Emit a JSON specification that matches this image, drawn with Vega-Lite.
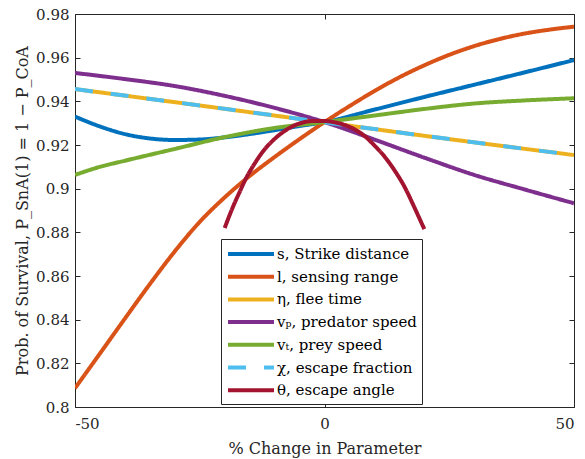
{
  "$schema": "https://vega.github.io/schema/vega-lite/v6.json",
  "width": 499,
  "height": 393,
  "autosize": "none",
  "padding": {"left": 75, "top": 14, "right": 11, "bottom": 52},
  "background": "white",
  "config": {
    "view": {"stroke": null},
    "font": "DejaVu Serif",
    "axis": {"grid": false, "domainColor": "#262626", "tickColor": "#262626", "labelColor": "#262626", "titleColor": "#262626", "labelFont": "DejaVu Serif", "titleFont": "DejaVu Serif", "labelFontSize": 15, "titleFontSize": 16, "titleFontWeight": "normal", "tickSize": -5, "domainWidth": 1, "tickWidth": 1}
  },
  "data": {"values": [
    {"param": "s, Strike distance", "p": -50, "v": 0.933},
    {"param": "s, Strike distance", "p": -45, "v": 0.9285},
    {"param": "s, Strike distance", "p": -40, "v": 0.925},
    {"param": "s, Strike distance", "p": -35, "v": 0.923},
    {"param": "s, Strike distance", "p": -30, "v": 0.9223},
    {"param": "s, Strike distance", "p": -25, "v": 0.9225},
    {"param": "s, Strike distance", "p": -20, "v": 0.9235},
    {"param": "s, Strike distance", "p": -15, "v": 0.925},
    {"param": "s, Strike distance", "p": -10, "v": 0.9268},
    {"param": "s, Strike distance", "p": -5, "v": 0.9287},
    {"param": "s, Strike distance", "p": 0, "v": 0.9305},
    {"param": "s, Strike distance", "p": 10, "v": 0.9362},
    {"param": "s, Strike distance", "p": 20, "v": 0.942},
    {"param": "s, Strike distance", "p": 30, "v": 0.9476},
    {"param": "s, Strike distance", "p": 40, "v": 0.9532},
    {"param": "s, Strike distance", "p": 50, "v": 0.9589},
    {"param": "l, sensing range", "p": -50, "v": 0.8086},
    {"param": "l, sensing range", "p": -45, "v": 0.8245},
    {"param": "l, sensing range", "p": -40, "v": 0.8405},
    {"param": "l, sensing range", "p": -35, "v": 0.8563},
    {"param": "l, sensing range", "p": -30, "v": 0.8713},
    {"param": "l, sensing range", "p": -25, "v": 0.8848},
    {"param": "l, sensing range", "p": -20, "v": 0.896},
    {"param": "l, sensing range", "p": -15, "v": 0.9058},
    {"param": "l, sensing range", "p": -10, "v": 0.9145},
    {"param": "l, sensing range", "p": -5, "v": 0.9227},
    {"param": "l, sensing range", "p": 0, "v": 0.9305},
    {"param": "l, sensing range", "p": 5, "v": 0.9378},
    {"param": "l, sensing range", "p": 10, "v": 0.9447},
    {"param": "l, sensing range", "p": 15, "v": 0.951},
    {"param": "l, sensing range", "p": 20, "v": 0.9565},
    {"param": "l, sensing range", "p": 25, "v": 0.9613},
    {"param": "l, sensing range", "p": 30, "v": 0.9653},
    {"param": "l, sensing range", "p": 35, "v": 0.9685},
    {"param": "l, sensing range", "p": 40, "v": 0.971},
    {"param": "l, sensing range", "p": 45, "v": 0.9728},
    {"param": "l, sensing range", "p": 50, "v": 0.9742},
    {"param": "η, flee time", "p": -50, "v": 0.9456},
    {"param": "η, flee time", "p": -25, "v": 0.9381},
    {"param": "η, flee time", "p": 0, "v": 0.9304},
    {"param": "η, flee time", "p": 25, "v": 0.9227},
    {"param": "η, flee time", "p": 50, "v": 0.9154},
    {"param": "vₚ, predator speed", "p": -50, "v": 0.953},
    {"param": "vₚ, predator speed", "p": -40, "v": 0.9502},
    {"param": "vₚ, predator speed", "p": -30, "v": 0.947},
    {"param": "vₚ, predator speed", "p": -20, "v": 0.9425},
    {"param": "vₚ, predator speed", "p": -10, "v": 0.937},
    {"param": "vₚ, predator speed", "p": 0, "v": 0.9305},
    {"param": "vₚ, predator speed", "p": 10, "v": 0.9225},
    {"param": "vₚ, predator speed", "p": 20, "v": 0.9142},
    {"param": "vₚ, predator speed", "p": 30, "v": 0.9063},
    {"param": "vₚ, predator speed", "p": 40, "v": 0.8997},
    {"param": "vₚ, predator speed", "p": 50, "v": 0.8933},
    {"param": "vₜ, prey speed", "p": -50, "v": 0.9063},
    {"param": "vₜ, prey speed", "p": -45, "v": 0.9100},
    {"param": "vₜ, prey speed", "p": -40, "v": 0.9128},
    {"param": "vₜ, prey speed", "p": -30, "v": 0.9182},
    {"param": "vₜ, prey speed", "p": -20, "v": 0.9236},
    {"param": "vₜ, prey speed", "p": -10, "v": 0.9278},
    {"param": "vₜ, prey speed", "p": 0, "v": 0.9305},
    {"param": "vₜ, prey speed", "p": 10, "v": 0.9335},
    {"param": "vₜ, prey speed", "p": 20, "v": 0.9365},
    {"param": "vₜ, prey speed", "p": 30, "v": 0.939},
    {"param": "vₜ, prey speed", "p": 40, "v": 0.9404},
    {"param": "vₜ, prey speed", "p": 50, "v": 0.9414},
    {"param": "χ, escape fraction", "p": -50, "v": 0.9456},
    {"param": "χ, escape fraction", "p": -25, "v": 0.9381},
    {"param": "χ, escape fraction", "p": 0, "v": 0.9304},
    {"param": "χ, escape fraction", "p": 25, "v": 0.9227},
    {"param": "χ, escape fraction", "p": 50, "v": 0.9154},
    {"param": "θ, escape angle", "p": -20, "v": 0.882},
    {"param": "θ, escape angle", "p": -19, "v": 0.888},
    {"param": "θ, escape angle", "p": -18, "v": 0.8935},
    {"param": "θ, escape angle", "p": -17, "v": 0.8985},
    {"param": "θ, escape angle", "p": -16, "v": 0.9035},
    {"param": "θ, escape angle", "p": -14, "v": 0.9115},
    {"param": "θ, escape angle", "p": -12, "v": 0.918},
    {"param": "θ, escape angle", "p": -10, "v": 0.9228},
    {"param": "θ, escape angle", "p": -8, "v": 0.9264},
    {"param": "θ, escape angle", "p": -6, "v": 0.929},
    {"param": "θ, escape angle", "p": -4, "v": 0.9305},
    {"param": "θ, escape angle", "p": -2, "v": 0.931},
    {"param": "θ, escape angle", "p": 0, "v": 0.931},
    {"param": "θ, escape angle", "p": 2, "v": 0.9304},
    {"param": "θ, escape angle", "p": 4, "v": 0.9292},
    {"param": "θ, escape angle", "p": 6, "v": 0.9272},
    {"param": "θ, escape angle", "p": 8, "v": 0.9242},
    {"param": "θ, escape angle", "p": 10, "v": 0.9198},
    {"param": "θ, escape angle", "p": 12, "v": 0.9148},
    {"param": "θ, escape angle", "p": 14, "v": 0.9085},
    {"param": "θ, escape angle", "p": 16, "v": 0.901},
    {"param": "θ, escape angle", "p": 18, "v": 0.8915},
    {"param": "θ, escape angle", "p": 19, "v": 0.8865},
    {"param": "θ, escape angle", "p": 20, "v": 0.8815}
  ]},
  "layer": [
    {
      "mark": {"type": "line", "strokeWidth": 4, "interpolate": "monotone", "clip": true},
      "encoding": {
        "x": {"field": "p", "type": "quantitative", "scale": {"domain": [-50, 50], "nice": false},
              "axis": {"orient": "bottom", "values": [-50, 0, 50], "labelExpr": "datum.value + ''", "title": "% Change in Parameter", "labelPadding": 14, "titlePadding": 9}},
        "y": {"field": "v", "type": "quantitative", "scale": {"domain": [0.8, 0.98], "nice": false, "zero": false},
              "axis": {"orient": "left", "values": [0.8, 0.82, 0.84, 0.86, 0.88, 0.9, 0.92, 0.94, 0.96, 0.98], "format": ".2~f", "title": "Prob. of Survival, P_SnA(1) = 1 − P_CoA", "labelPadding": 11, "titlePadding": 5}},
        "color": {"field": "param", "type": "nominal", "sort": null,
          "scale": {"domain": ["s, Strike distance", "l, sensing range", "η, flee time", "vₚ, predator speed", "vₜ, prey speed", "χ, escape fraction", "θ, escape angle"],
                    "range": ["#0072BD", "#D95319", "#EDB120", "#7E2F8E", "#77AC30", "#4DBEEE", "#A2142F"]},
          "legend": {"title": null, "orient": "none", "legendX": 146, "legendY": 225, "symbolType": "M-2.875,0H2.875", "symbolSize": 256, "symbolStrokeWidth": 4, "labelFont": "DejaVu Serif", "labelFontSize": 15, "labelColor": "#000000", "strokeColor": "#262626", "fillColor": "white", "padding": 5, "rowPadding": 4.7, "symbolOffset": 15, "labelOffset": 16, "labelLimit": 300}},
        "strokeDash": {"field": "param", "type": "nominal", "sort": null,
          "scale": {"domain": ["s, Strike distance", "l, sensing range", "η, flee time", "vₚ, predator speed", "vₜ, prey speed", "χ, escape fraction", "θ, escape angle"],
                    "range": [[1, 0], [1, 0], [1, 0], [1, 0], [1, 0], [18, 18], [1, 0]]},
          "legend": {"title": null, "orient": "none", "legendX": 146, "legendY": 225, "symbolType": "M-2.875,0H2.875", "symbolSize": 256, "symbolStrokeWidth": 4, "labelFont": "DejaVu Serif", "labelFontSize": 15, "labelColor": "#000000", "strokeColor": "#262626", "fillColor": "white", "padding": 5, "rowPadding": 4.7, "symbolOffset": 15, "labelOffset": 16, "labelLimit": 300}}
      }
    },
    {
      "mark": {"type": "line", "opacity": 0},
      "encoding": {
        "x": {"field": "p", "type": "quantitative", "scale": {"domain": [-50, 50], "nice": false},
              "axis": {"orient": "top", "values": [-50, 0, 50], "labels": false, "title": null}},
        "y": {"field": "v", "type": "quantitative", "scale": {"domain": [0.8, 0.98], "nice": false, "zero": false},
              "axis": {"orient": "right", "values": [0.8, 0.82, 0.84, 0.86, 0.88, 0.9, 0.92, 0.94, 0.96, 0.98], "labels": false, "title": null}},
        "detail": {"field": "param", "type": "nominal"}
      }
    }
  ],
  "resolve": {"axis": {"x": "independent", "y": "independent"}}
}
